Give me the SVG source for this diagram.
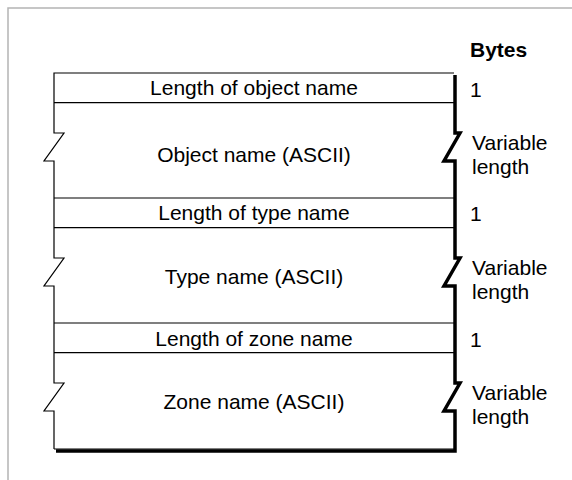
<svg xmlns="http://www.w3.org/2000/svg" width="572" height="480" viewBox="0 0 572 480">
  <style>
    text { font-family: "Liberation Sans", Arial, sans-serif; font-size: 21px; fill: #000; }
    .c { text-anchor: middle; }
    .h { font-weight: bold; }
    .edge { fill: none; stroke: #000; stroke-width: 1.2; }
    .shadow { fill: none; stroke: #000; stroke-width: 3.5; }
    .rule { stroke: #000; stroke-width: 1.2; }
  </style>

  <!-- page frame -->
  <rect x="8" y="8" width="600" height="500" fill="#fff" stroke="#b4b4b4" stroke-width="1.5"/>

  <g id="header">
    <text class="h" x="470" y="57">Bytes</text>
  </g>

  <!-- record outline with broken sides for variable-length fields -->
  <g id="outline">
    <path class="edge" d="M54,449 V411 H44 L64,383 H54 V286 H44 L64,258 H54 V161 H44 L64,133 H54 V73 H454"/>
    <path class="edge" d="M54,449 H454"/>
    <path class="shadow" d="M455,75 V133 H460 L444,161 H455 V258 H460 L444,286 H455 V383 H460 L444,411 H455 V451 H56"/>
  </g>

  <g id="field-object-length">
    <line class="rule" x1="54" y1="102.7" x2="454" y2="102.7"/>
    <text class="c" x="254" y="95">Length of object name</text>
    <text x="470" y="97">1</text>
  </g>

  <g id="field-object-name">
    <line class="rule" x1="54" y1="198" x2="454" y2="198"/>
    <text class="c" x="254" y="162">Object name (ASCII)</text>
    <text x="472" y="150">Variable</text>
    <text x="472" y="174">length</text>
  </g>

  <g id="field-type-length">
    <line class="rule" x1="54" y1="227.7" x2="454" y2="227.7"/>
    <text class="c" x="254" y="220">Length of type name</text>
    <text x="470" y="221">1</text>
  </g>

  <g id="field-type-name">
    <line class="rule" x1="54" y1="323" x2="454" y2="323"/>
    <text class="c" x="254" y="284">Type name (ASCII)</text>
    <text x="472" y="275">Variable</text>
    <text x="472" y="299">length</text>
  </g>

  <g id="field-zone-length">
    <line class="rule" x1="54" y1="352.7" x2="454" y2="352.7"/>
    <text class="c" x="254" y="346">Length of zone name</text>
    <text x="470" y="347">1</text>
  </g>

  <g id="field-zone-name">
    <text class="c" x="254" y="409">Zone name (ASCII)</text>
    <text x="472" y="400">Variable</text>
    <text x="472" y="424">length</text>
  </g>
</svg>
